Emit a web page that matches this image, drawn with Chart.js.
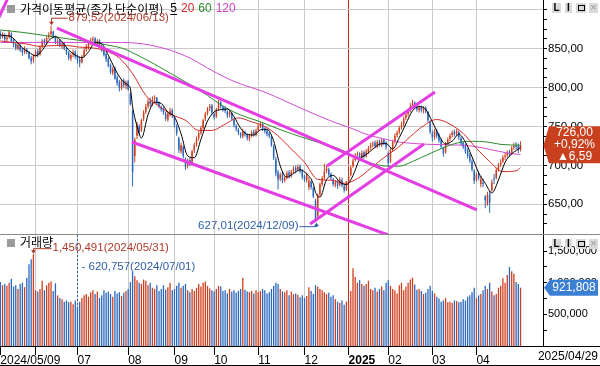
<!DOCTYPE html>
<html>
<head>
<meta charset="utf-8">
<script src="https://cdn.jsdelivr.net/npm/chart.js@4.4.1/dist/chart.umd.min.js"></script>
<style>
    body { margin: 0; background: #fff; }
    #wrap { position: relative; width: 600px; height: 366px; overflow: hidden; background: #fff; }
    #priceChart { position: absolute; left: 0; top: 0; }
    #volChart { position: absolute; left: 0; top: 235px; }
    #sep { position: absolute; left: 0; top: 234px; width: 600px; height: 1px; background: #8a8a8a; }
    #bottomLine { position: absolute; left: 0; top: 365px; width: 600px; height: 1px; background: #000; }
</style>
</head>
<body>
<div id="wrap">
    <canvas id="priceChart" width="600" height="234"></canvas>
    <div id="sep"></div>
    <canvas id="volChart" width="600" height="131"></canvas>
    <div id="bottomLine"></div>
</div>
<script>
// ----- Data (KOSDAQ daily, 2024/05/09 - 2025/04/29, index = trading day) -----
const opens = [
    870,865,868,862,865,869,861,856,850,854,849,846,849,845,838,836,
    842,847,843,853,861,857,865,869,872,865,857,861,853,857,849,845,837,843,846,
    841,836,833,841,849,852,858,861,863,857,861,853,849,843,837,829,819,825,813,807,799,809,802,
    808,792,770,712,738,750,745,760,769,776,783,778,785,787,781,775,773,767,759,765,771,
    762,750,735,718,724,708,700,707,704,719,727,735,742,748,760,767,773,777,
    766,763,773,781,775,773,769,765,767,759,751,746,741,737,743,739,734,739,743,739,
    746,751,753,747,745,741,737,725,708,691,683,689,681,685,691,687,693,697,695,699,693,
    686,681,672,679,671,655,635,663,676,684,693,695,689,682,675,679,675,681,673,669,
    679,688,699,707,713,715,709,717,712,717,723,727,729,724,731,726,733,729,
    716,705,721,731,739,743,749,753,761,766,771,777,781,775,771,775,770,774,769,756,
    741,737,745,739,733,722,717,729,734,739,743,741,743,735,729,725,719,713,705,693,
    682,689,676,677,660,650,664,668,683,684,695,701,705,711,713,717,715,723,726,725,720
];
const highs = [
    873,871,870,867,874,871,863,859,858,856,851,853,851,847,841,843,
    849,850,854,862,863,866,871,879.52,873,867,863,862,859,859,851,847,844,849,848,
    843,840,842,851,856,860,864,866,865,862,862,855,851,845,839,831,827,827,816,810,811,812,809,
    810,794,772,736,756,753,760,771,779,786,787,789,790,788,782,777,775,769,769,774,773,
    764,753,737,729,726,710,709,710,720,729,737,744,751,760,769,775,779,779,
    768,774,784,783,777,776,771,770,769,761,753,748,743,747,745,741,740,745,746,747,
    753,756,755,749,747,743,738,727,711,694,691,692,686,693,694,694,699,700,701,701,695,
    688,691,685,681,673,657,664,678,686,702,700,697,691,684,681,681,685,684,676,680,
    689,700,709,716,718,717,719,719,721,725,729,731,732,733,733,735,735,731,
    718,722,733,741,745,751,756,763,768,773,780,784,782,777,777,777,776,776,770,758,
    745,747,747,742,735,724,730,736,741,745,746,747,745,737,731,728,722,716,708,695,
    691,692,686,683,662,666,668,682,689,697,703,708,713,716,719,720,725,729,730,728,731
];
const lows = [
    862,863,859,859,863,858,852,848,848,846,841,843,843,836,830,832,
    839,839,841,851,855,855,862,866,863,856,854,852,850,848,842,835,834,839,837,
    831,826,831,839,846,849,855,858,855,854,852,846,840,833,826,817,816,810,802,795,797,800,798,
    796,777,673,704,734,738,743,757,766,773,775,776,781,778,773,769,765,757,756,763,761,
    749,738,716,715,709,694,696,699,702,716,724,732,739,746,757,764,770,765,
    759,761,771,773,769,767,761,762,758,749,744,739,735,735,737,732,731,736,737,737,
    744,748,744,741,737,735,724,707,686,669,680,677,678,682,683,684,690,690,692,690,682,
    679,678,668,669,658,627.01,633,660,673,681,690,686,681,673,672,670,673,672,665,667,
    676,686,697,705,709,707,707,709,710,715,720,723,722,722,724,724,726,720,
    698,703,718,728,736,740,746,750,758,763,768,774,773,769,768,768,767,767,755,740,
    731,733,735,729,721,711,715,726,731,736,737,738,733,725,721,715,709,703,692,676,
    679,681,672,672,645,648,639,666,676,682,692,698,703,707,710,711,713,720,720,716,718
];
const closes = [
    866,869,862,864,871,860,856,851,855,848,845,850,846,838,834,840,
    846,842,852,860,858,864,868,872,866,858,860,854,856,850,844,838,842,845,840,
    835,832,840,848,853,857,860,862,858,860,854,848,842,836,828,820,824,812,806,800,808,803,806,
    798,779,691,733,752,742,758,768,775,782,779,784,786,780,776,772,768,760,766,770,764,
    752,741,720,726,712,698,705,702,718,726,734,741,748,758,766,772,776,768,
    762,772,780,776,772,770,764,768,760,752,747,742,738,744,740,735,738,742,740,745,
    750,752,746,744,740,738,726,710,690,682,688,680,684,690,686,692,696,694,698,692,685,
    682,688,680,672,660,627.01,661.6,675.6,683.4,692,696,688,684,676,678,674,682,674,668,678,
    686,697,706,712,714,710,716,711,718,722,726,728,725,730,727,732,728,724,
    703,720,730,738,742,748,752,760,765,770,776,780,776,772,774,771,773,770,758,743,
    736,744,738,732,724,715,728,733,738,742,740,744,736,728,724,718,712,706,695,680,
    688,684,682,676,655,662,652,678,682,694,700,704,710,712,716,714,722,725,724,719.41,726
];
// volume in thousands of shares
const volumes = [
    1010,960,980,950,1000,1060,940,960,900,980,1000,930,1080,1290,1370,1450.491,
    880,860,900,1030,880,960,1000,1020,870,990,800,760,740,700,720,690,700,660,720,
    620.757,700,760,800,820,780,850,880,820,860,760,800,880,840,860,820,780,870,830,850,790,840,870,
    900,1010,1170,1100,1040,1000,980,1050,1030,960,1000,920,900,960,870,900,960,890,930,1000,880,
    900,950,1000,920,950,980,880,850,900,870,920,980,940,1000,1020,950,910,880,
    860,900,950,940,870,880,830,900,860,880,840,870,900,1080,890,860,850,870,830,880,
    850,870,900,880,830,850,900,950,1000,980,900,860,850,880,800,860,820,830,810,770,800,
    760,790,930,870,820,960,940,900,880,850,820,840,780,800,740,700,680,720,650,700,
    700,870,1230,1090,1000,1040,980,950,980,1030,900,880,920,860,900,940,880,1000,
    1040,950,900,880,830,960,1000,880,940,1000,1050,1080,970,890,900,870,820,840,900,950,
    870,830,780,750,700,720,760,690,700,680,720,710,690,700,740,720,780,800,850,920,
    760,800,820,880,950,900,1000,860,800,820,920,950,1070,1000,1120,1250,1180,1140,1010,980,921.808
];

// moving averages: [trading-day index, value]
const ma5 = [
    [0,868],[1,867],[4,866.4],[7,860.4],[10,851],[13,845.4],[16,840.8],[19,848],[22,860.4],[25,865.6],
    [28,858.8],[31,848.4],[34,841.8],[37,838.4],[40,846],[43,858],[46,856.4],[49,841.6],[52,824],[55,810],
    [58,803],[59,798.8],[60,775.4],[61,761.4],[62,750.6],[64,735.2],[67,765],[70,781.2],[73,779.6],[76,768.4],
    [79,762.4],[82,740.6],[85,712.2],[88,709.8],[91,733.4],[94,757],[97,768.8],[100,771.6],[103,772.4],[106,762.8],
    [109,747.8],[112,739.8],[115,739],[118,745.8],[121,746.4],[124,731.6],[127,699.2],[130,684.8],[133,689.6],[136,694.4],
    [139,689],[142,676.4],[143,665.4],[145,659.2],[148,681.7],[151,687.2],[154,678.8],[157,675.2],[160,687],[163,707.8],
    [166,713.8],[169,721],[172,727.2],[175,728.2],[178,721],[181,735.6],[184,753.4],[187,770.2],[190,775.6],[193,772],
    [196,756],[199,738.6],[202,727.4],[205,731.2],[208,740],[211,730],[214,711],[217,690.6],[220,677],[223,664.6],
    [226,681.2],[229,704],[232,714.8],[235,720.9],[236,723.3]
];
const ma20 = [
    [0,860],[6,858],[12,856],[18,853],[24,854],[30,854],[36,852],[42,851],[48,847],[54,838],
    [60,818],[66,790],[72,776],[78,765],[84,758],[90,745],[96,745],[102,753],[108,761],[114,756],
    [120,750],[126,738],[132,721],[138,704],[144,682],[150,681],[156,677],[162,683],[168,696],[174,710],
    [180,722],[186,737],[192,751],[198,759],[204,753],[210,741],[216,722],[222,705],[228,692],[234,693],[236,697]
];
const ma60 = [
    [0,874],[10,871],[20,867],[30,863],[40,859],[50,854],[56,850],[62,842],[70,830],[78,817],
    [86,804],[94,790],[100,778],[108,766],[118,756],[127,746],[136,737],[145,729],[151,724],[157,717],
    [163,708],[169,702],[176,699],[181,699],[187,705],[194,714],[203,725],[209,730],[214,731],[221,730],
    [227,727],[236,726]
];
const ma120 = [
    [0,858],[20,858],[40,858],[55,858],[65,856],[76,849],[86,838],[96,822],[106,808],[121,793],
    [136,774],[151,756],[159,748],[166,740],[174,734],[181,730],[195,727],[209,726],[216,724],[223,720],
    [230,716],[236,714]
];
// hand-drawn trend lines: [[index, price], [index, price]]
const trendLines = [
    [[25.7, 876.6], [216.2, 642.7]],
    [[59.7, 730.1], [176, 610.6]],
    [[148.2, 699.2], [197.2, 794.3]],
    [[140.5, 624.7], [192.2, 727.5]],
    [[-1, 888], [3.5, 915.5]]
];

// x axis: month starts (trading-day index) and their labels
const monthTicks = [0, 16, 35, 58, 79, 97, 117, 138, 158, 176, 196, 216];
const monthLabels = ['2024/05/09', '', '07', '08', '09', '10', '11', '12', '2025', '02', '03', '04'];
const lastDate = '2025/04/29';
const priceTicks = [625,637.5,650,662.5,675,687.5,700,712.5,725,737.5,750,762.5,775,787.5,800,812.5,825,837.5,850,862.5,875,887.5,900];
const volTicks = [250, 500, 750, 1000, 1250, 1500];

// ----- Styling -----
const FONT = '"Liberation Sans", Arial, sans-serif';
const KFONT = '"Noto Sans CJK KR", "Liberation Sans", sans-serif';
const UP = '#cf3f1f';
const DOWN = '#2a68bd';
const GRID = '#cacaca';
const YEAR_LINE = '#c8281e';
const X_MIN = -0.15, X_MAX = 246.2;

Chart.defaults.font.family = FONT;
Chart.defaults.color = '#000';

const candleColor = (ctx) => closes[ctx.dataIndex] >= opens[ctx.dataIndex] ? UP : DOWN;
const fmtPrice = (v) => v.toFixed(2).replace('.', ',');
const fmtVol = (k) => Math.round(k * 1000).toLocaleString('en-US');
const toPts = (arr) => arr.map(([x, y]) => ({ x, y }));

const gridColor = (ctx) => {
    const v = ctx.tick ? ctx.tick.value : null;
    if (v === 0) return 'rgba(0,0,0,0)';
    if (v === 158) return YEAR_LINE;
    return GRID;
};

function drawIcons(ctx, top) {
    ctx.save();
    ctx.fillStyle = '#dadada';
    ctx.fillRect(552, top, 9, 10);
    ctx.fillRect(565, top, 7, 10);
    ctx.fillRect(576, top, 10, 10);
    ctx.fillRect(589, top, 9, 10);
    ctx.fillStyle = '#000';
    ctx.font = 'bold 10px ' + FONT;
    ctx.textAlign = 'center';
    ctx.textBaseline = 'middle';
    ctx.fillText('L', 556.5, top + 5.5);
    ctx.fillText('I', 568.5, top + 5.5);
    ctx.strokeStyle = '#000';
    ctx.lineWidth = 1;
    ctx.strokeRect(578.5, top + 2.5, 6, 5);
    ctx.fillStyle = '#9a9a9a';
    ctx.font = '11px ' + FONT;
    ctx.fillText('×', 593.5, top + 5);
    ctx.restore();
}

function arrowHead(ctx, x, y, dir) {
    ctx.beginPath();
    if (dir === 'down') { ctx.moveTo(x - 2.5, y - 3.5); ctx.lineTo(x + 2.5, y - 3.5); ctx.lineTo(x, y); }
    else { ctx.moveTo(x - 2.5, y + 3.5); ctx.lineTo(x + 2.5, y + 3.5); ctx.lineTo(x, y); }
    ctx.closePath();
    ctx.fill();
}

// ----- Price panel extras -----
const priceExtras = {
    id: 'priceExtras',
    afterDraw(chart) {
        const { ctx, scales: { x, y } } = chart;
        ctx.save();

        // header
        ctx.fillStyle = '#9a9a9a';
        ctx.fillRect(7, 5, 8, 8);
        ctx.textBaseline = 'middle';
        ctx.textAlign = 'left';
        ctx.fillStyle = '#000';
        ctx.font = '12px ' + KFONT;
        const title = '가격이동평균(종가 단순이평)';
        ctx.fillText(title, 20, 9);
        let tx = 20 + ctx.measureText(title).width + 7;
        ctx.font = '12px ' + FONT;
        const parts = [['5', '#000'], ['20', '#d42a2a'], ['60', '#2a8a2a'], ['120', '#cc44cc']];
        parts.forEach(([t, c], k) => {
            ctx.fillStyle = c;
            ctx.fillText(t, tx, 9);
            const w = ctx.measureText(t).width;
            if (k === 0) { ctx.fillRect(tx, 14, w, 1); }
            tx += w + 4;
        });

        drawIcons(ctx, 3);

        // highest high
        const hi = highs.indexOf(Math.max(...highs));
        const hx = Math.round(x.getPixelForValue(hi)) + 0.5;
        const hy = y.getPixelForValue(highs[hi]);
        ctx.strokeStyle = ctx.fillStyle = '#b03a2a';
        ctx.lineWidth = 1;
        ctx.beginPath();
        ctx.moveTo(hx + 16, hy - 7.5);
        ctx.lineTo(hx, hy - 7.5);
        ctx.lineTo(hx, hy - 3);
        ctx.stroke();
        arrowHead(ctx, hx, hy - 0.5, 'down');
        ctx.font = '11.5px ' + FONT;
        ctx.fillText(fmtPrice(highs[hi]) + '(2024/06/13)', hx + 17, hy - 8);

        // lowest low
        const lo = lows.indexOf(Math.min(...lows));
        const lx = Math.round(x.getPixelForValue(lo)) + 0.5;
        const ly = y.getPixelForValue(lows[lo]);
        ctx.strokeStyle = ctx.fillStyle = '#2d5fa6';
        ctx.beginPath();
        ctx.moveTo(lx - 17, ly + 4.5);
        ctx.lineTo(lx, ly + 4.5);
        ctx.lineTo(lx, ly + 3);
        ctx.stroke();
        arrowHead(ctx, lx, ly + 0.5, 'up');
        ctx.textAlign = 'right';
        ctx.fillText(fmtPrice(lows[lo]) + '(2024/12/09)', lx - 18, ly + 4);

        // last price tag
        const last = closes[closes.length - 1];
        const prev = closes[closes.length - 2];
        const ty = y.getPixelForValue(last);
        ctx.fillStyle = '#c9401f';
        ctx.beginPath();
        ctx.moveTo(543.5, ty);
        ctx.lineTo(549, ty - 19);
        ctx.lineTo(600, ty - 19);
        ctx.lineTo(600, ty + 18);
        ctx.lineTo(549, ty + 18);
        ctx.closePath();
        ctx.fill();
        ctx.fillStyle = '#fff';
        ctx.textAlign = 'center';
        ctx.font = '12px ' + FONT;
        const diff = last - prev;
        ctx.fillText(fmtPrice(last), 574.5, ty - 12);
        ctx.fillText('+' + fmtPrice(diff / prev * 100) + '%', 574.5, ty);
        ctx.fillText('▲' + fmtPrice(diff), 574.5, ty + 12);

        ctx.restore();
    }
};

// ----- Volume panel extras -----
const volExtras = {
    id: 'volExtras',
    afterDraw(chart) {
        const { ctx, scales: { x, y }, chartArea } = chart;
        ctx.save();

        // full-width axis line under the volume panel
        ctx.strokeStyle = '#000';
        ctx.lineWidth = 1;
        ctx.beginPath();
        ctx.moveTo(543, chartArea.bottom + 0.5);
        ctx.lineTo(600, chartArea.bottom + 0.5);
        ctx.stroke();

        // header
        ctx.fillStyle = '#9a9a9a';
        ctx.fillRect(7, 4, 8, 8);
        ctx.fillStyle = '#000';
        ctx.textBaseline = 'middle';
        ctx.font = '12px ' + KFONT;
        ctx.fillText('거래량', 20, 7);

        drawIcons(ctx, 4);

        // max volume
        const mi = volumes.indexOf(Math.max(...volumes));
        const mx = Math.round(x.getPixelForValue(mi)) + 0.5;
        const my = y.getPixelForValue(volumes[mi]);
        ctx.strokeStyle = ctx.fillStyle = '#b03a2a';
        ctx.beginPath();
        ctx.moveTo(mx + 18, my - 5.5);
        ctx.lineTo(mx, my - 5.5);
        ctx.lineTo(mx, my - 3);
        ctx.stroke();
        arrowHead(ctx, mx, my - 0.5, 'down');
        ctx.font = '11.5px ' + FONT;
        ctx.fillText(fmtVol(volumes[mi]) + '(2024/05/31)', mx + 19, my - 6);

        // min volume
        const ni = volumes.indexOf(Math.min(...volumes));
        const nx = Math.round(x.getPixelForValue(ni)) + 0.5;
        const ny = y.getPixelForValue(volumes[ni]);
        ctx.strokeStyle = ctx.fillStyle = '#2d5fa6';
        ctx.setLineDash([2, 2]);
        ctx.beginPath();
        ctx.moveTo(nx, 0);
        ctx.lineTo(nx, ny - 1);
        ctx.stroke();
        ctx.setLineDash([]);
        ctx.fillText('- ' + fmtVol(volumes[ni]) + '(2024/07/01)', nx + 4, 32);

        // last volume tag
        const lv = volumes[volumes.length - 1];
        const vy = y.getPixelForValue(lv);
        ctx.fillStyle = '#3b7fd4';
        ctx.beginPath();
        ctx.moveTo(544, vy);
        ctx.lineTo(550, vy - 8);
        ctx.lineTo(598, vy - 8);
        ctx.lineTo(598, vy + 8);
        ctx.lineTo(550, vy + 8);
        ctx.closePath();
        ctx.fill();
        ctx.fillStyle = '#fff';
        ctx.textAlign = 'center';
        ctx.font = '12px ' + FONT;
        ctx.fillText(fmtVol(lv), 574, vy);

        // last date
        ctx.fillStyle = '#000';
        ctx.textAlign = 'right';
        ctx.fillText(lastDate, 598, chartArea.bottom + 11);

        ctx.restore();
    }
};

const commonOptions = {
    responsive: false,
    animation: false,
    devicePixelRatio: 1,
    events: [],
    layout: { padding: 0 },
    plugins: { legend: { display: false }, tooltip: { enabled: false } }
};

// ----- Price chart -----
const lineDs = (data, color, order) => ({
    type: 'line', data: toPts(data), borderColor: color, borderWidth: 1,
    pointRadius: 0, cubicInterpolationMode: 'monotone', order: order
});

const priceDatasets = [
    ...trendLines.map(seg => ({
        type: 'line', data: toPts(seg), borderColor: '#e33de3', borderWidth: 3,
        pointRadius: 0, tension: 0, order: 0
    })),
    lineDs(ma5, '#000000', 1),
    lineDs(ma20, '#d42a2a', 2),
    lineDs(ma60, '#2a8a2a', 3),
    lineDs(ma120, '#d24ad2', 4),
    {
        type: 'bar', data: closes.map((c, i) => ({ x: i, y: [opens[i], c] })),
        backgroundColor: candleColor, barThickness: 1.5, minBarLength: 1, inflateAmount: 0,
        grouped: false, order: 5
    },
    {
        type: 'bar', data: closes.map((c, i) => ({ x: i, y: [lows[i], highs[i]] })),
        backgroundColor: candleColor, barThickness: 1, inflateAmount: 0, grouped: false, order: 6
    }
];

new Chart(document.getElementById('priceChart'), {
    type: 'bar',
    data: { datasets: priceDatasets },
    options: {
        ...commonOptions,
        scales: {
            x: {
                type: 'linear', min: X_MIN, max: X_MAX, offset: false,
                afterBuildTicks: s => { s.ticks = monthTicks.map(v => ({ value: v })); },
                afterFit: s => { s.height = 0; s.paddingLeft = 0; s.paddingRight = 0; },
                ticks: { display: false },
                grid: { color: gridColor, drawTicks: false, offset: false },
                border: { display: false }
            },
            y: {
                position: 'right', min: 611.8, max: 912.6,
                afterBuildTicks: s => { s.ticks = priceTicks.map(v => ({ value: v })); },
                afterFit: s => { s.width = 57; s.paddingTop = 0; s.paddingBottom = 0; },
                ticks: {
                    autoSkip: false, padding: 1, color: '#000', font: { family: FONT, size: 11.5 },
                    callback: v => (v % 50 === 0 && v < 900) ? fmtPrice(v) : ''
                },
                grid: {
                    color: ctx => ctx.tick && ctx.tick.value % 50 === 0 ? GRID : 'rgba(0,0,0,0)',
                    tickColor: '#000', tickLength: 4
                },
                border: { display: true, color: '#000' }
            }
        }
    },
    plugins: [priceExtras]
});

// ----- Volume chart -----
new Chart(document.getElementById('volChart'), {
    type: 'bar',
    data: {
        datasets: [{
            data: volumes.map((v, i) => ({ x: i, y: v })),
            backgroundColor: candleColor, barThickness: 1.3, inflateAmount: 0, grouped: false
        }]
    },
    options: {
        ...commonOptions,
        scales: {
            x: {
                type: 'linear', min: X_MIN, max: X_MAX, offset: false,
                afterBuildTicks: s => { s.ticks = monthTicks.map(v => ({ value: v })); },
                afterFit: s => { s.height = 20; s.paddingLeft = 0; s.paddingRight = 0; },
                ticks: {
                    autoSkip: false, maxRotation: 0, minRotation: 0, align: 'start', padding: -2, color: '#000',
                    font: ctx => ({ family: FONT, size: 12, weight: ctx.tick && ctx.tick.value === 158 ? 'bold' : 'normal' }),
                    callback: v => monthLabels[monthTicks.indexOf(v)] || ''
                },
                grid: { color: gridColor, tickColor: '#000', tickLength: 9, offset: false },
                border: { display: true, color: '#000' }
            },
            y: {
                position: 'right', min: 0, max: 1753.6,
                afterBuildTicks: s => { s.ticks = volTicks.map(v => ({ value: v })); },
                afterFit: s => { s.width = 57; s.paddingTop = 0; s.paddingBottom = 0; },
                ticks: {
                    autoSkip: false, padding: 1, color: '#000', font: { family: FONT, size: 11 },
                    callback: v => v % 500 === 0 ? fmtVol(v) : ''
                },
                grid: { color: 'rgba(0,0,0,0)', tickColor: '#000', tickLength: 4 },
                border: { display: true, color: '#000' }
            }
        }
    },
    plugins: [volExtras]
});
</script>
</body>
</html>
